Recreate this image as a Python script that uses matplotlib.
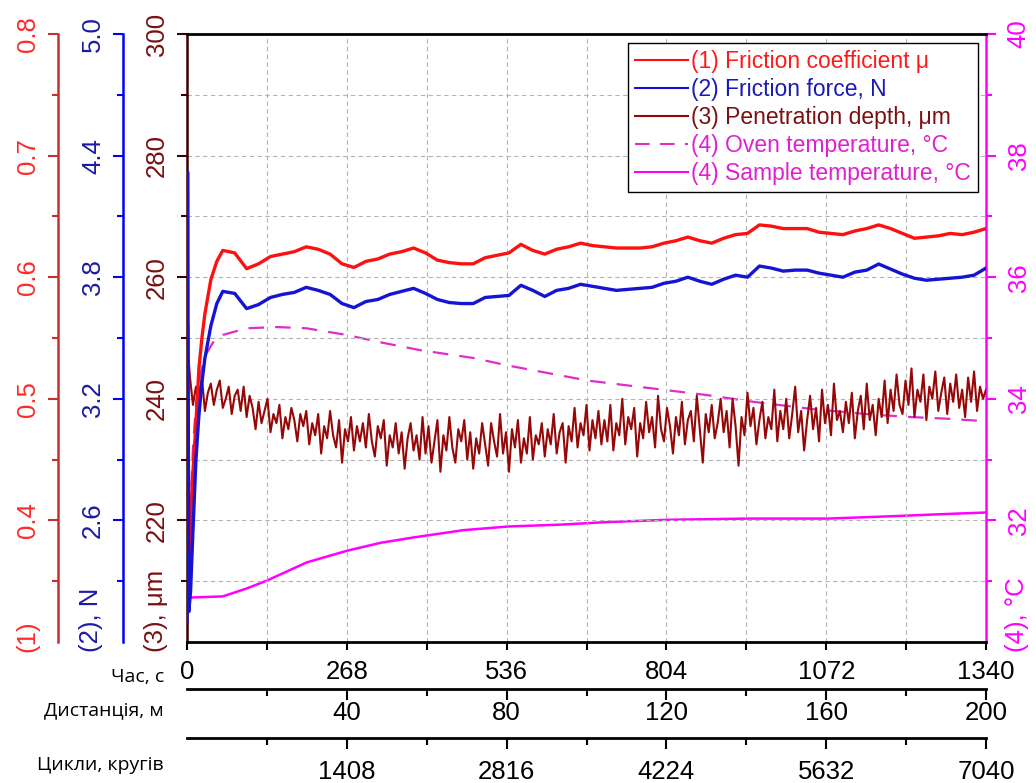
import numpy as np
import matplotlib
matplotlib.use("Agg")
import matplotlib.pyplot as plt

plt.rcParams['font.family'] = ['Liberation Sans', 'DejaVu Sans']

# ---------------- data ----------------
# friction coefficient / friction force (same sampling)
t_fric = [0, 1, 3, 6, 10, 15, 20, 25, 30, 40, 50, 60] + list(range(80, 1341, 20))
mu = [0.33, 0.56, 0.36, 0.40, 0.44, 0.48, 0.525, 0.55, 0.57, 0.598, 0.613, 0.622,
      0.620, 0.607, 0.611, 0.617, 0.619, 0.621, 0.625, 0.623,
      0.619, 0.611, 0.608, 0.613, 0.615, 0.619, 0.621, 0.624,
      0.620, 0.614, 0.612, 0.611, 0.611, 0.616, 0.618, 0.620,
      0.627, 0.622, 0.619, 0.623, 0.625, 0.628, 0.626, 0.625,
      0.624, 0.624, 0.624, 0.625, 0.628, 0.630, 0.633, 0.630,
      0.628, 0.632, 0.635, 0.636, 0.643, 0.642, 0.640, 0.640,
      0.640, 0.637, 0.636, 0.635, 0.638, 0.640, 0.643, 0.640,
      0.636, 0.632, 0.633, 0.634, 0.636, 0.635, 0.637, 0.640]
force = [2.10, 4.32, 2.15, 2.25, 2.55, 2.90, 3.12, 3.28, 3.40, 3.56, 3.67, 3.73,
         3.72, 3.645, 3.665, 3.70, 3.715, 3.725, 3.75, 3.735,
         3.715, 3.67, 3.65, 3.68, 3.69, 3.715, 3.73, 3.745,
         3.72, 3.69, 3.675, 3.67, 3.67, 3.70, 3.705, 3.71,
         3.76, 3.735, 3.705, 3.735, 3.745, 3.765, 3.755, 3.745,
         3.735, 3.74, 3.745, 3.75, 3.77, 3.78, 3.80, 3.78,
         3.765, 3.79, 3.81, 3.80, 3.855, 3.845, 3.83, 3.835,
         3.835, 3.82, 3.81, 3.80, 3.825, 3.835, 3.865, 3.84,
         3.815, 3.795, 3.785, 3.79, 3.795, 3.80, 3.81, 3.845]

# penetration depth, every 5 s
t_depth = np.arange(0, 1341, 5)
depth = [
    250.0, 243.5, 239.0, 242.0, 240.5, 243.5, 238.0, 241.0, 242.5, 239.0,
    241.5, 243.0, 238.5, 240.0, 242.0, 237.5, 240.5, 241.5, 238.0, 242.0,
    237.0, 240.5, 238.5, 235.0, 239.5, 236.0, 238.0, 240.0, 234.5, 237.5,
    236.0, 239.0, 233.5, 237.0, 235.0, 238.5, 236.5, 233.0, 237.5, 235.5,
    238.0, 232.5, 236.0, 234.0, 237.5, 231.0, 235.5, 233.5, 238.0, 234.0,
    232.0, 236.5, 229.5, 235.0, 233.0, 237.0, 231.5, 235.5, 233.0, 236.0,
    232.0, 237.5, 233.0, 230.5, 235.5, 233.5, 236.5, 229.0, 234.0, 232.0,
    236.0, 231.0, 234.5, 228.5, 233.5, 236.0, 231.5, 234.0, 230.0, 237.0,
    231.0, 235.5, 229.5, 233.0, 236.5, 228.0, 234.0, 231.5, 237.0, 232.0,
    229.5, 235.0, 233.0, 236.5, 230.0, 234.5, 228.5, 233.5, 231.0, 236.0,
    232.5, 229.0, 236.0, 233.0, 230.5, 237.5, 231.0, 234.5, 228.0, 235.0,
    232.0, 236.5, 229.5, 233.5, 231.0, 237.0, 230.0, 234.0, 232.5, 236.0,
    230.5, 235.0, 232.5, 237.5, 231.0, 234.5, 236.0, 229.5, 235.5, 233.0,
    238.5, 232.0, 236.0, 234.0, 239.0, 231.5, 236.5, 233.5, 238.0, 232.5,
    236.5, 233.0, 239.0, 231.5, 236.0, 234.0, 240.0, 232.5, 237.0, 235.0,
    238.5, 230.5, 236.0, 233.5, 239.5, 234.5, 237.0, 232.0, 240.5, 235.0,
    233.0, 238.5, 235.5, 231.0, 237.0, 234.0, 239.5, 232.5, 236.5, 238.0,
    233.0, 240.5, 235.0, 229.5, 237.5, 234.5, 239.0, 233.5, 236.0, 240.0,
    234.5, 238.0, 232.0, 240.0, 235.5, 229.0, 237.0, 234.0, 241.0, 235.5,
    238.5, 232.5, 236.5, 239.5, 233.5, 237.0, 235.0, 241.5, 233.0, 238.0,
    235.0, 240.0, 233.5, 237.5, 242.0, 234.5, 238.0, 231.5, 236.5, 240.5,
    235.0, 238.5, 233.0, 241.5, 236.0, 239.0, 234.0, 242.5, 236.5, 238.0,
    234.5, 239.5, 236.0, 241.0, 233.5, 238.0, 240.5, 235.0, 242.5, 236.5,
    239.0, 234.0, 240.0, 237.0, 243.0, 236.0, 241.5, 238.0, 244.0, 239.0,
    237.5, 243.0, 239.0, 245.0, 237.0, 241.5, 239.5, 244.0, 236.5, 242.0,
    240.0, 244.5, 238.0, 241.0, 243.5, 237.5, 242.5, 239.5, 244.0, 238.5,
    241.5, 237.0, 243.5, 239.5, 244.5, 238.0, 242.0, 240.0, 241.5]

# temperatures
t_oven = [0, 5, 10, 15, 20, 30, 45, 60, 100, 150, 200, 268, 324, 391, 481, 537,
          672, 806, 873, 950, 1050, 1150, 1214, 1280, 1340]
oven = [30.8, 32.0, 33.2, 33.9, 34.3, 34.7, 34.95, 35.05, 35.16, 35.18, 35.16, 35.05,
        34.93, 34.80, 34.67, 34.55, 34.30, 34.14, 34.06, 33.95, 33.83, 33.74, 33.70,
        33.67, 33.63]
t_sample = [0, 3, 60, 100, 134, 201, 268, 324, 380, 464, 539, 626, 700, 806, 940,
            1075, 1186, 1260, 1340]
sample = [30.75, 30.73, 30.75, 30.88, 31.01, 31.31, 31.50, 31.63, 31.72, 31.84, 31.90,
          31.93, 31.97, 32.01, 32.03, 32.03, 32.07, 32.10, 32.13]

# axes ticks
time_ticks = [0, 268, 536, 804, 1072, 1340]
dist_ticks = [40, 80, 120, 160, 200]
cycle_ticks = [1408, 2816, 4224, 5632, 7040]
mu_ticks = [0.4, 0.5, 0.6, 0.7, 0.8]
force_ticks = [2.6, 3.2, 3.8, 4.4, 5.0]
depth_ticks = [220, 240, 260, 280, 300]
temp_ticks = [32, 34, 36, 38, 40]

labels = ['(1) Friction coefficient \u03bc', '(2) Friction force, N',
          '(3) Penetration depth, \u03bcm', '(4) Oven temperature, \u00b0C',
          '(4) Sample temperature, \u00b0C']

# ---------------- colours ----------------
C_RED = '#ff1010'
C_BLUE = '#1414d2'
C_DRED = '#960808'
C_MAG = '#ff00ff'

W, H = 1036, 783
L, R, T, B = 187, 986, 34, 642
FS = 18.5

fig = plt.figure(figsize=(W / 100, H / 100), dpi=100, facecolor='white')
ax_d = fig.add_axes([L / W, 1 - B / H, (R - L) / W, (B - T) / H])
ax_t = ax_d.twinx()
ax_m = ax_d.twinx()
ax_f = ax_d.twinx()
ax_d.patch.set_visible(False)
ax_t.set_zorder(-1)

ax_t.plot(t_oven, oven, color='#e02cc8', lw=1.6, ls=(0, (7, 5)))
ax_t.plot(t_sample, sample, color=C_MAG, lw=1.8)
ax_d.plot(t_depth, depth, color=C_DRED, lw=1.5)
ax_m.plot(t_fric, mu, color=C_RED, lw=2.4)
ax_f.plot(t_fric, force, color=C_BLUE, lw=2.4)

ax_d.set_xlim(0, 1340)
ax_d.set_ylim(200, 300)
ax_m.set_ylim(0.3, 0.8)
ax_f.set_ylim(2.0, 5.0)
ax_t.set_ylim(30, 40)

# grid on host
ax_d.set_xticks(time_ticks, [str(v) for v in time_ticks], fontsize=FS)
ax_d.set_xticks([134, 402, 670, 938, 1206], minor=True)
ax_d.grid(which='both', ls=(0, (4, 3)), color='#b4b4b4', lw=0.8)
ax_d.tick_params(axis='x', which='both', direction='out', length=6, width=1.5,
                 pad=7, colors='black')

# spines
for a in (ax_t, ax_m, ax_f):
    for s in a.spines.values():
        s.set_visible(False)
ax_d.spines['right'].set_visible(False)
for s in ('top', 'bottom'):
    ax_d.spines[s].set_linewidth(2)
ax_d.spines['left'].set_color('#3a0000')
ax_d.spines['left'].set_linewidth(1.8)


def style_y(a, ticks, fmt, minor, color, tcolor, side, pos=None, pad=6):
    a.yaxis.set_ticks_position(side)
    a.yaxis.set_label_position(side)
    sp = a.spines[side]
    sp.set_visible(True)
    sp.set_color(color)
    sp.set_linewidth(1.8)
    if pos is not None:
        sp.set_position(('axes', pos))
    a.set_yticks(ticks, [fmt.format(v) for v in ticks], rotation=90, va='center',
                 fontsize=FS, color=tcolor)
    a.set_yticks(minor, minor=True)
    a.tick_params(axis='y', which='major', direction='out', length=7, width=1.5,
                  color=color, pad=pad)
    a.tick_params(axis='y', which='minor', direction='out', length=4, width=1.5,
                  color=color)


style_y(ax_d, depth_ticks, '{:d}', [210, 230, 250, 270, 290], '#3a0000', '#7a1010', 'left')
style_y(ax_m, mu_ticks, '{:.1f}', [0.35, 0.45, 0.55, 0.65, 0.75], '#c83030', '#ff2a2a',
        'left', pos=(58 - L) / (R - L))
style_y(ax_f, force_ticks, '{:.1f}', [2.3, 2.9, 3.5, 4.1, 4.7], '#0000ff', '#1a1aa8',
        'left', pos=(123 - L) / (R - L))
style_y(ax_t, temp_ticks, '{:d}', [31, 33, 35, 37, 39], C_MAG, C_MAG, 'right', pad=8)

# extra x axes: distance and cycles
k_d = dist_ticks[-1] / time_ticks[-1]
k_c = cycle_ticks[-1] / time_ticks[-1]
sec1 = ax_d.secondary_xaxis((B - 689) / (B - T),
                            functions=(lambda x: x * k_d, lambda x: x / k_d))
sec2 = ax_d.secondary_xaxis((B - 738) / (B - T),
                            functions=(lambda x: x * k_c, lambda x: x / k_c))
sec1.set_xticks(dist_ticks, [str(v) for v in dist_ticks], fontsize=FS)
sec1.set_xticks([20, 60, 100, 140, 180], minor=True)
sec2.set_xticks(cycle_ticks, [str(v) for v in cycle_ticks], fontsize=FS)
sec2.set_xticks([704, 2112, 3520, 4928, 6336], minor=True)
for s, p in ((sec1, 1), (sec2, 8)):
    s.spines['bottom'].set_linewidth(2)
    s.tick_params(axis='x', which='major', direction='out', length=8, width=1.5, pad=p)
    s.tick_params(axis='x', which='minor', direction='out', length=5, width=1.5)

# axis names
fig.text(27 / W, 1 - 652 / H, '(1)', rotation=90, ha='center', va='bottom',
         fontsize=FS, color='#ff2a2a')
fig.text(91 / W, 1 - 652 / H, '(2), N', rotation=90, ha='center', va='bottom',
         fontsize=FS, color='#1a1aa8')
fig.text(156 / W, 1 - 652 / H, '(3), \u03bcm', rotation=90, ha='center', va='bottom',
         fontsize=FS, color='#7a1010')
fig.text(1017 / W, 1 - 652 / H, '(4), \u00b0C', rotation=90, ha='center', va='bottom',
         fontsize=FS, color=C_MAG)

cyr = dict(ha='right', va='center', fontsize=14, family=['Open Sans', 'DejaVu Sans'])
fig.text(164 / W, 1 - 677 / H, 'Час, с', **cyr)
fig.text(164 / W, 1 - 710 / H, 'Дистанція, м', **cyr)
fig.text(164 / W, 1 - 765 / H, 'Цикли, кругів', **cyr)

# legend
handles = ax_m.lines + ax_f.lines + ax_d.lines + ax_t.lines
leg = ax_f.legend(handles, labels, loc='upper right', bbox_to_anchor=(0.99, 0.985),
                  fontsize=16.5, frameon=True, fancybox=False, framealpha=1,
                  edgecolor='black', handlelength=2.3, handletextpad=0.15,
                  labelspacing=0.22, borderpad=0.3, borderaxespad=0)
leg.get_frame().set_linewidth(1.0)
for line in leg.get_lines():
    line.set_linewidth(1.5)
for txt, c in zip(leg.get_texts(), ['#ff1a1a', '#1a1ab4', '#7a1010', '#e020d0', '#e020d0']):
    txt.set_color(c)

fig.savefig('out.png', dpi=100, facecolor='white')
